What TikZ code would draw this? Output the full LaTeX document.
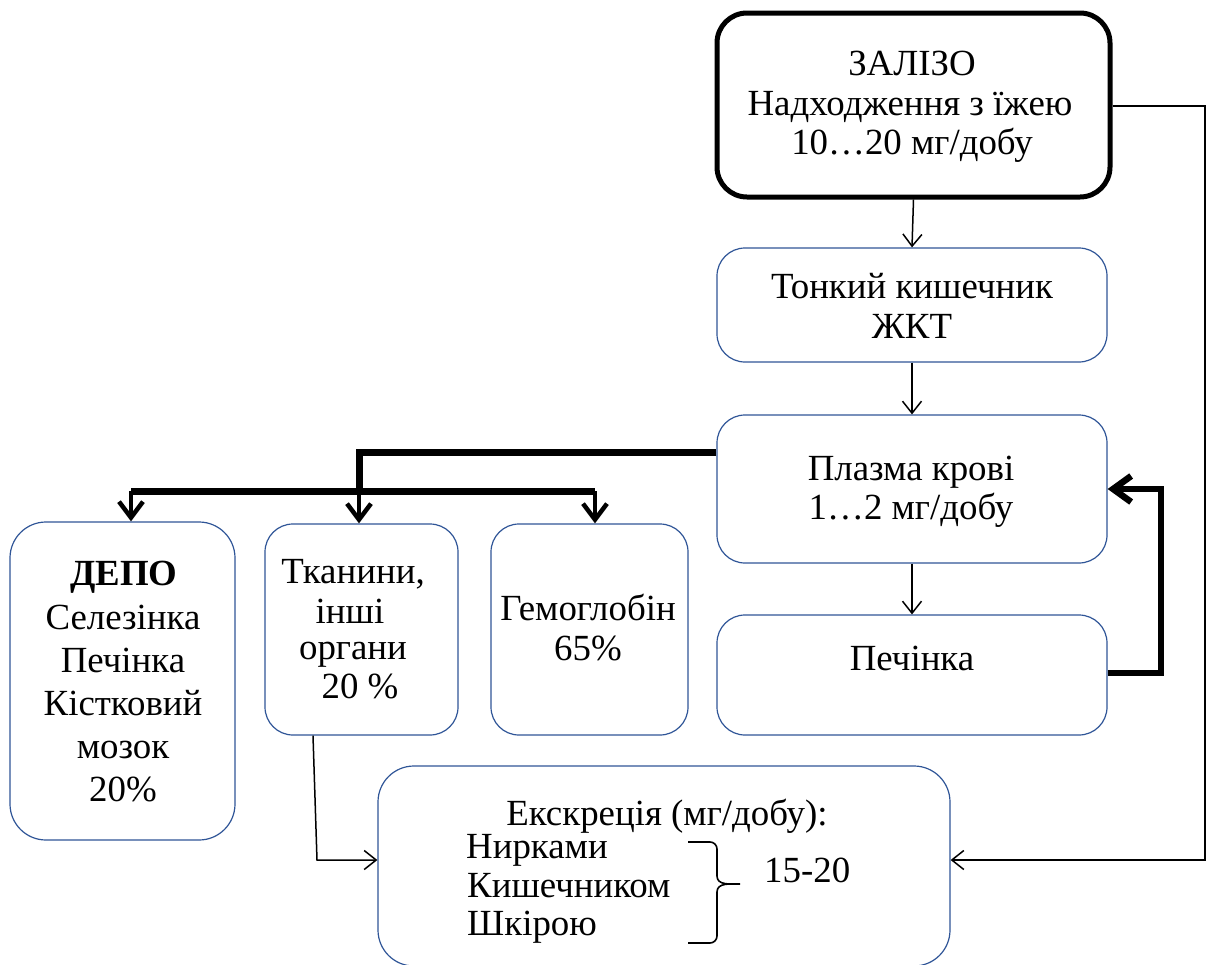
\documentclass[tikz,border=0pt]{standalone}
\usepackage{fontspec}
\setmainfont{Liberation Serif}
\usetikzlibrary{arrows.meta}
\definecolor{boxblue}{RGB}{47,85,151}
\tikzset{
  box/.style={draw=boxblue, line width=1.2bp, rounded corners=28bp, inner sep=0pt},
  mainbox/.style={draw=black, line width=5bp, rounded corners=30bp, inner sep=0pt},
  ln/.style={anchor=base, inner sep=0pt, font=\fontsize{37}{40}\selectfont},
  lnleft/.style={anchor=base west, inner sep=0pt, font=\fontsize{37}{40}\selectfont},
  thinarrow/.style={line width=1.5bp, -{Straight Barb[length=12bp,width=19bp]}},
  heavyline/.style={line width=7bp, line join=miter},
  heavyarrow/.style={line width=4.5bp, -{Straight Barb[length=16bp,width=24bp]}},
  backarrow/.style={line width=6.5bp, line join=miter, -{Straight Barb[length=18bp,width=26bp]}},
}
\begin{document}
\begin{tikzpicture}[x=1bp,y=-1bp]
\useasboundingbox (0,0) rectangle (1208,965);

% boxes
\node[mainbox, minimum width=393bp, minimum height=184bp] (iron) at (913.5,105) {};
\node[box, minimum width=390bp, minimum height=114bp] (gut) at (912,305) {};
\node[box, minimum width=390bp, minimum height=148bp] (plasma) at (912,489) {};
\node[box, minimum width=390bp, minimum height=120bp] (liver) at (912,675) {};
\node[box, minimum width=225bp, minimum height=318bp, rounded corners=36bp] (depo) at (122.5,681) {};
\node[box, minimum width=193bp, minimum height=211bp] (tissue) at (361.5,629.5) {};
\node[box, minimum width=197bp, minimum height=211bp] (hemo) at (589.5,629.5) {};
\node[box, minimum width=572bp, minimum height=200bp, rounded corners=36bp] (exc) at (664,866) {};

% texts
\node[ln] (iron1) at (912,75) {ЗАЛІЗО};
\node[ln] (iron2) at (910,115) {Надходження з їжею};
\node[ln] (iron3) at (912,154) {10…20 мг/добу};
\node[ln] (gut1) at (912,298) {Тонкий кишечник};
\node[ln] (gut2) at (912,338) {ЖКТ};
\node[ln] (plasma1) at (911,480) {Плазма крові};
\node[ln] (plasma2) at (911,519) {1…2 мг/добу};
\node[ln] (liver1) at (912,670) {Печінка};
\node[ln] (depo1) at (124,585) {\textbf{ДЕПО}};
\node[ln] (depo2) at (123,629) {Селезінка};
\node[ln] (depo3) at (123,672) {Печінка};
\node[ln] (depo4) at (123,715) {Кістковий};
\node[ln] (depo5) at (123,758) {мозок};
\node[ln] (depo6) at (123,801) {20\%};
\node[ln] (tis1) at (353,583) {Тканини,};
\node[ln] (tis2) at (350,623) {інші};
\node[ln] (tis3) at (353,659) {органи};
\node[ln] (tis4) at (360,698) {20 \%};
\node[ln] (hemo1) at (588,620) {Гемоглобін};
\node[ln] (hemo2) at (588,660) {65\%};
\node[ln] (exc0) at (667,825) {Екскреція (мг/добу):};
\node[lnleft] (exc1) at (466,858) {Нирками};
\node[lnleft] (exc2) at (467,897) {Кишечником};
\node[lnleft] (exc3) at (467,935) {Шкірою};
\node[lnleft] (excN) at (764,882) {15-20};

% brace grouping the three routes
\draw[line width=1.6bp] (688,842) -- (710,842) to[out=0,in=90] (717,849) -- (717,876)
  to[out=-90,in=180] (740,884) to[out=180,in=90] (717,892) -- (717,936)
  to[out=-90,in=0] (710,943) -- (688,943);

% main chain
\draw[thinarrow] (iron.south) -- (gut.north);
\draw[thinarrow] (gut.south) -- (plasma.north);
\draw[thinarrow] (plasma.south) -- (liver.north);

% distribution from plasma
\coordinate (split) at (359,452);
\coordinate (bar) at (359,491);
\coordinate (barL) at (131,491);
\coordinate (barR) at (595,491);
\draw[heavyline] (plasma.west |- split) -- (split) -- (bar);
\draw[heavyline] (barL) -- (barR);
\draw[heavyarrow] (barL) -- (barL |- depo.north);
\draw[heavyarrow] (bar) -- (bar |- tissue.north);
\draw[heavyarrow] (barR) -- (barR |- hemo.north);

% liver back to plasma
\coordinate (fbB) at (1161,673);
\coordinate (fbT) at (1161,489);
\draw[backarrow] (liver.east |- fbB) -- (fbB) -- (fbT) -- (plasma.east |- fbT);

% intake bypass to excretion
\coordinate (rT) at (1205,106);
\coordinate (rB) at (1205,860);
\draw[thinarrow] (iron.east |- rT) -- (rT) -- (rB) -- (exc.east |- rB);

% tissues to excretion
\coordinate (lB) at (317,860);
\draw[thinarrow] (tissue.south -| 313,0) -- (lB) -- (exc.west |- lB);
\end{tikzpicture}
\end{document}
